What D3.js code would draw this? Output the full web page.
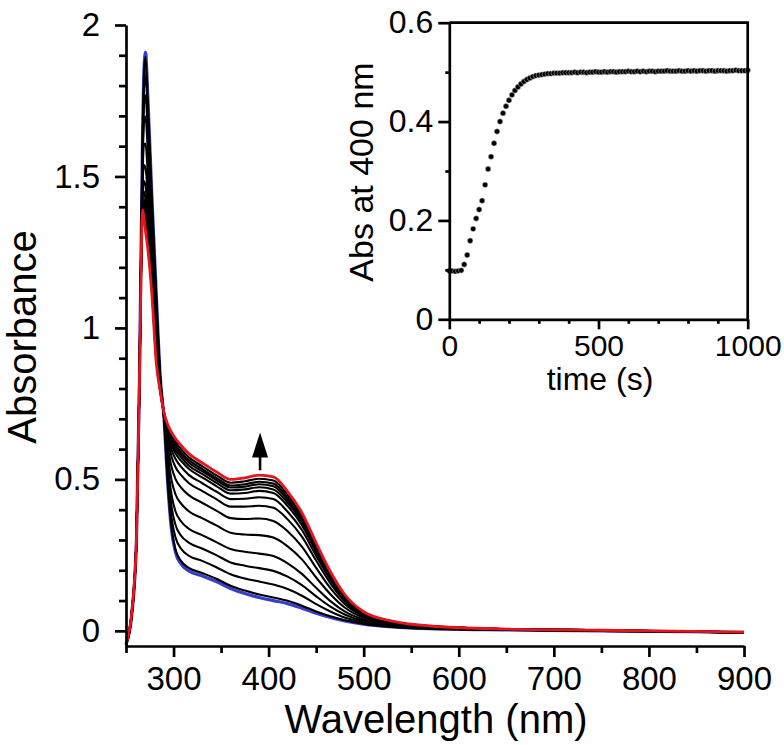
<!DOCTYPE html>
<html><head><meta charset="utf-8">
<script src="https://cdn.jsdelivr.net/npm/d3@7"></script>
<style>
body{margin:0;background:#fff}
svg{display:block}
</style>
</head><body>
<svg id="c" width="784" height="745"></svg>
<script>
// ---------- DATA ----------
const wavelengths = [250, 256, 261, 264, 267.5, 269, 270.5, 273, 277, 282, 286, 290, 294, 298, 302, 308, 316, 330, 345, 360, 375, 390, 405, 420, 435, 450, 465, 480, 500, 530, 570, 650, 750, 900];

const spectrumInitial = [-0.045, 0.05, 0.30, 0.80, 1.65, 1.86, 1.91, 1.76, 1.45, 1.10, 0.84, 0.70, 0.48, 0.33, 0.26, 0.22, 0.198, 0.182, 0.163, 0.14, 0.123, 0.11, 0.10, 0.09, 0.075, 0.058, 0.044, 0.033, 0.022, 0.013, 0.007, 0.003, 0.0, -0.005];
const spectrum01 = [-0.045, 0.05, 0.30, 0.80, 1.644, 1.848, 1.895, 1.748, 1.442, 1.095, 0.839, 0.70, 0.485, 0.338, 0.269, 0.23, 0.208, 0.191, 0.172, 0.149, 0.133, 0.12, 0.11, 0.099, 0.083, 0.064, 0.048, 0.035, 0.023, 0.013, 0.007, 0.003, 0.000, -0.005];
const spectrum02 = [-0.045, 0.051, 0.30, 0.80, 1.616, 1.795, 1.833, 1.695, 1.407, 1.071, 0.834, 0.703, 0.506, 0.372, 0.309, 0.271, 0.248, 0.231, 0.21, 0.187, 0.173, 0.163, 0.153, 0.138, 0.116, 0.088, 0.064, 0.044, 0.027, 0.015, 0.008, 0.003, 0.000, -0.005];
const spectrum03 = [-0.045, 0.052, 0.30, 0.80, 1.588, 1.74, 1.768, 1.64, 1.371, 1.047, 0.828, 0.705, 0.528, 0.408, 0.35, 0.314, 0.291, 0.272, 0.25, 0.226, 0.215, 0.207, 0.198, 0.179, 0.151, 0.114, 0.08, 0.054, 0.032, 0.018, 0.009, 0.004, 0.000, -0.005];
const spectrum04 = [-0.045, 0.054, 0.30, 0.80, 1.556, 1.68, 1.698, 1.58, 1.331, 1.021, 0.822, 0.707, 0.552, 0.447, 0.395, 0.361, 0.337, 0.316, 0.293, 0.27, 0.261, 0.255, 0.247, 0.223, 0.188, 0.142, 0.098, 0.064, 0.037, 0.02, 0.01, 0.004, 0.001, -0.005];
const spectrum05 = [-0.045, 0.055, 0.30, 0.80, 1.517, 1.605, 1.609, 1.505, 1.282, 0.988, 0.815, 0.71, 0.582, 0.496, 0.451, 0.42, 0.395, 0.372, 0.348, 0.324, 0.318, 0.316, 0.308, 0.279, 0.236, 0.176, 0.121, 0.077, 0.043, 0.023, 0.012, 0.005, 0.001, -0.005];
const spectrum06 = [-0.045, 0.056, 0.30, 0.80, 1.482, 1.538, 1.529, 1.438, 1.237, 0.958, 0.808, 0.713, 0.609, 0.54, 0.502, 0.473, 0.448, 0.423, 0.397, 0.372, 0.369, 0.371, 0.363, 0.329, 0.278, 0.208, 0.141, 0.089, 0.048, 0.025, 0.013, 0.005, 0.001, -0.005];
const spectrum07 = [-0.045, 0.057, 0.30, 0.80, 1.455, 1.485, 1.468, 1.385, 1.203, 0.935, 0.803, 0.715, 0.63, 0.574, 0.541, 0.514, 0.488, 0.462, 0.435, 0.41, 0.41, 0.413, 0.406, 0.368, 0.311, 0.232, 0.157, 0.098, 0.053, 0.027, 0.014, 0.005, 0.001, -0.005];
const spectrum08 = [-0.045, 0.058, 0.30, 0.80, 1.437, 1.45, 1.426, 1.35, 1.179, 0.92, 0.799, 0.716, 0.644, 0.597, 0.568, 0.541, 0.515, 0.488, 0.46, 0.435, 0.436, 0.441, 0.435, 0.393, 0.333, 0.248, 0.168, 0.104, 0.056, 0.029, 0.014, 0.005, 0.002, -0.005];
const spectrum09 = [-0.045, 0.059, 0.30, 0.80, 1.424, 1.425, 1.397, 1.325, 1.163, 0.909, 0.797, 0.717, 0.654, 0.613, 0.586, 0.561, 0.535, 0.507, 0.478, 0.453, 0.455, 0.462, 0.455, 0.412, 0.349, 0.26, 0.175, 0.109, 0.058, 0.03, 0.015, 0.006, 0.002, -0.005];
const spectrum10 = [-0.045, 0.059, 0.30, 0.80, 1.416, 1.41, 1.379, 1.31, 1.153, 0.902, 0.795, 0.718, 0.66, 0.623, 0.598, 0.573, 0.546, 0.518, 0.489, 0.464, 0.467, 0.474, 0.467, 0.423, 0.359, 0.267, 0.18, 0.111, 0.059, 0.03, 0.015, 0.006, 0.002, -0.005];
const spectrum11 = [-0.045, 0.059, 0.30, 0.80, 1.41, 1.398, 1.364, 1.298, 1.145, 0.897, 0.794, 0.719, 0.665, 0.631, 0.607, 0.583, 0.556, 0.527, 0.498, 0.473, 0.476, 0.484, 0.477, 0.432, 0.366, 0.273, 0.184, 0.114, 0.06, 0.031, 0.015, 0.006, 0.002, -0.005];
const spectrum12 = [-0.045, 0.06, 0.30, 0.80, 1.404, 1.388, 1.352, 1.288, 1.138, 0.892, 0.793, 0.719, 0.669, 0.637, 0.614, 0.59, 0.564, 0.535, 0.505, 0.48, 0.484, 0.492, 0.486, 0.44, 0.373, 0.277, 0.187, 0.115, 0.061, 0.031, 0.015, 0.006, 0.002, -0.005];
const spectrum13 = [-0.045, 0.06, 0.30, 0.80, 1.398, 1.375, 1.338, 1.275, 1.13, 0.887, 0.792, 0.719, 0.674, 0.645, 0.624, 0.6, 0.573, 0.544, 0.514, 0.489, 0.494, 0.502, 0.496, 0.449, 0.381, 0.283, 0.19, 0.117, 0.062, 0.031, 0.016, 0.006, 0.002, -0.005];
const spectrumFinal = [-0.045, 0.06, 0.30, 0.80, 1.39, 1.36, 1.32, 1.26, 1.12, 0.88, 0.79, 0.72, 0.68, 0.655, 0.635, 0.612, 0.585, 0.555, 0.525, 0.50, 0.505, 0.514, 0.508, 0.46, 0.39, 0.29, 0.195, 0.12, 0.063, 0.032, 0.016, 0.006, 0.002, -0.004];

const mainXTicks = [300, 400, 500, 600, 700, 800, 900];
const mainXMinorTicks = [250, 350, 450, 550, 650, 750, 850];
const mainYTicks = [0, 0.5, 1, 1.5, 2];
const mainYTickLabels = ["0", "0.5", "1", "1.5", "2"];
const mainYMinorTicks = [0.1, 0.2, 0.3, 0.4, 0.6, 0.7, 0.8, 0.9, 1.1, 1.2, 1.3, 1.4, 1.6, 1.7, 1.8, 1.9];

const arrowWavelength = 391;
const arrowFrom = 0.53;
const arrowTo = 0.655;

// inset: absorbance at 400 nm vs time
const insetTime = [0,10,20,30,40,50,60,70,80,90,100,110,120,130,140,150,160,170,180,190,200,210,220,230,240,250,260,270,280,290,300,310,320,330,340,350,360,370,380,390,400,410,420,430,440,450,460,470,480,490,500,510,520,530,540,550,560,570,580,590,600,610,620,630,640,650,660,670,680,690,700,710,720,730,740,750,760,770,780,790,800,810,820,830,840,850,860,870,880,890,900,910,920,930,940,950,960,970,980,990,1000];
const insetAbs = [0.098,0.098,0.097,0.098,0.099,0.111,0.130,0.159,0.183,0.204,0.222,0.240,0.272,0.304,0.329,0.356,0.380,0.400,0.417,0.431,0.443,0.454,0.463,0.470,0.476,0.481,0.485,0.488,0.491,0.493,0.494,0.495,0.496,0.497,0.497,0.498,0.498,0.498,0.499,0.499,0.499,
  0.499,0.500,0.499,0.500,0.500,0.499,0.500,0.500,0.501,0.500,
  0.500,0.501,0.500,0.501,0.501,0.500,0.501,0.501,0.501,0.502,
  0.501,0.501,0.502,0.501,0.502,0.501,0.502,0.502,0.501,0.502,
  0.502,0.502,0.503,0.502,0.502,0.502,0.503,0.502,0.502,0.503,
  0.502,0.503,0.502,0.503,0.503,0.502,0.503,0.503,0.502,0.503,
  0.503,0.503,0.502,0.503,0.503,0.504,0.503,0.503,0.503,0.504];
const insetXTicks = [0, 500, 1000];
const insetXMinorTicks = [100, 200, 300, 400, 600, 700, 800, 900];
const insetYTicks = [0, 0.2, 0.4, 0.6];
const insetYTickLabels = ["0", "0.2", "0.4", "0.6"];
const insetYMinorTicks = [0.1, 0.3, 0.5];

// ---------- DRAWING ----------
const FONT = 'Arial, "Liberation Sans", Helvetica, sans-serif';
const svg = d3.select("#c");
svg.append("rect").attr("width", 784).attr("height", 745).attr("fill", "#fff");

const x = d3.scaleLinear().domain([250, 900]).range([126, 744]);
const y = d3.scaleLinear().domain([-0.05, 2]).range([646, 25]);

function styleAxis(g, fs) {
  g.attr("font-family", FONT).attr("font-size", fs);
  g.select(".domain").attr("stroke", "#000").attr("stroke-width", 2.7);
  g.selectAll(".tick line").attr("stroke", "#000").attr("stroke-width", 2.7);
  g.selectAll(".tick text").attr("fill", "#000");
}

// spectra
const line = d3.line().x(d => x(d[0])).y(d => y(d[1])).curve(d3.curveMonotoneX);
const pair = arr => wavelengths.map((w, i) => [w, arr[i]]);
const blacks = [spectrum01, spectrum02, spectrum03, spectrum04, spectrum05, spectrum06, spectrum07, spectrum08, spectrum09, spectrum10, spectrum11, spectrum12, spectrum13];

const plot = svg.append("g");
plot.append("path").attr("d", line(pair(spectrumInitial))).attr("fill", "none")
  .attr("stroke", "#3440c8").attr("stroke-width", 3.2);
plot.selectAll("path.blk").data(blacks).enter().append("path").attr("class", "blk")
  .attr("d", d => line(pair(d))).attr("fill", "none")
  .attr("stroke", "#000").attr("stroke-width", 2.1);
plot.append("path").attr("d", line(pair(spectrumFinal))).attr("fill", "none")
  .attr("stroke", "#e8141c").attr("stroke-width", 2.8);

// arrow
const ax = x(arrowWavelength), aTip = y(arrowTo);
svg.append("line").attr("x1", ax).attr("x2", ax).attr("y1", y(arrowFrom)).attr("y2", aTip + 20)
  .attr("stroke", "#000").attr("stroke-width", 2.6);
svg.append("path").attr("d", `M${ax},${aTip}L${ax - 8},${aTip + 25}L${ax + 8},${aTip + 25}Z`).attr("fill", "#000");

// main axes
const gyMinor = svg.append("g").attr("transform", "translate(126,0)")
  .call(d3.axisLeft(y).tickValues(mainYMinorTicks).tickSize(7).tickFormat(""));
gyMinor.select(".domain").remove();
styleAxis(gyMinor, 33);
const gy = svg.append("g").attr("transform", "translate(126,0)")
  .call(d3.axisLeft(y).tickValues(mainYTicks).tickSize(11).tickSizeOuter(0).tickPadding(15)
    .tickFormat((d, i) => mainYTickLabels[i]));
styleAxis(gy, 33);

const gxMinor = svg.append("g").attr("transform", "translate(0,646)")
  .call(d3.axisBottom(x).tickValues(mainXMinorTicks).tickSize(7).tickFormat(""));
gxMinor.select(".domain").remove();
styleAxis(gxMinor, 33);
const gx = svg.append("g").attr("transform", "translate(0,646)")
  .call(d3.axisBottom(x).tickValues(mainXTicks).tickSize(11).tickSizeOuter(0).tickPadding(10)
    .tickFormat(d3.format("d")));
styleAxis(gx, 33);

svg.append("text").attr("x", 436).attr("y", 733).attr("text-anchor", "middle")
  .attr("font-family", FONT).attr("font-size", 40).attr("fill", "#000").text("Wavelength (nm)");
svg.append("text").attr("transform", "translate(36,337) rotate(-90)").attr("text-anchor", "middle")
  .attr("font-family", FONT).attr("font-size", 40).attr("fill", "#000").text("Absorbance");

// inset
const ix = d3.scaleLinear().domain([0, 1000]).range([449.3, 747.7]);
const iy = d3.scaleLinear().domain([0, 0.6]).range([319.3, 22.7]);

svg.append("g").selectAll("circle").data(insetTime.map((t, i) => [t, insetAbs[i]])).enter()
  .append("circle").attr("cx", d => ix(d[0])).attr("cy", d => iy(d[1])).attr("r", 2.7)
  .attr("fill", "#000").attr("stroke", "#bbb").attr("stroke-width", 0.5);

svg.append("path").attr("d", `M${ix(0)},${iy(0.6)}H${ix(1000)}V${iy(0)}`)
  .attr("fill", "none").attr("stroke", "#000").attr("stroke-width", 2.7);

const iyMinor = svg.append("g").attr("transform", `translate(${ix(0)},0)`)
  .call(d3.axisLeft(iy).tickValues(insetYMinorTicks).tickSize(4).tickFormat(""));
iyMinor.select(".domain").remove();
styleAxis(iyMinor, 32);
const iyAxis = svg.append("g").attr("transform", `translate(${ix(0)},0)`)
  .call(d3.axisLeft(iy).tickValues(insetYTicks).tickSize(11).tickSizeOuter(0).tickPadding(5)
    .tickFormat((d, i) => insetYTickLabels[i]));
styleAxis(iyAxis, 32);

const ixMinor = svg.append("g").attr("transform", `translate(0,${iy(0)})`)
  .call(d3.axisBottom(ix).tickValues(insetXMinorTicks).tickSize(4.5).tickFormat(""));
ixMinor.select(".domain").remove();
styleAxis(ixMinor, 30);
const ixAxis = svg.append("g").attr("transform", `translate(0,${iy(0)})`)
  .call(d3.axisBottom(ix).tickValues(insetXTicks).tickSize(10).tickSizeOuter(0).tickPadding(5)
    .tickFormat(d3.format("d")));
styleAxis(ixAxis, 30);

svg.append("text").attr("x", 600).attr("y", 390).attr("text-anchor", "middle")
  .attr("font-family", FONT).attr("font-size", 32).attr("fill", "#000").text("time (s)");
svg.append("text").attr("transform", "translate(373,172) rotate(-90)").attr("text-anchor", "middle")
  .attr("font-family", FONT).attr("font-size", 34).attr("fill", "#000").text("Abs at 400 nm");
</script>
</body></html>
